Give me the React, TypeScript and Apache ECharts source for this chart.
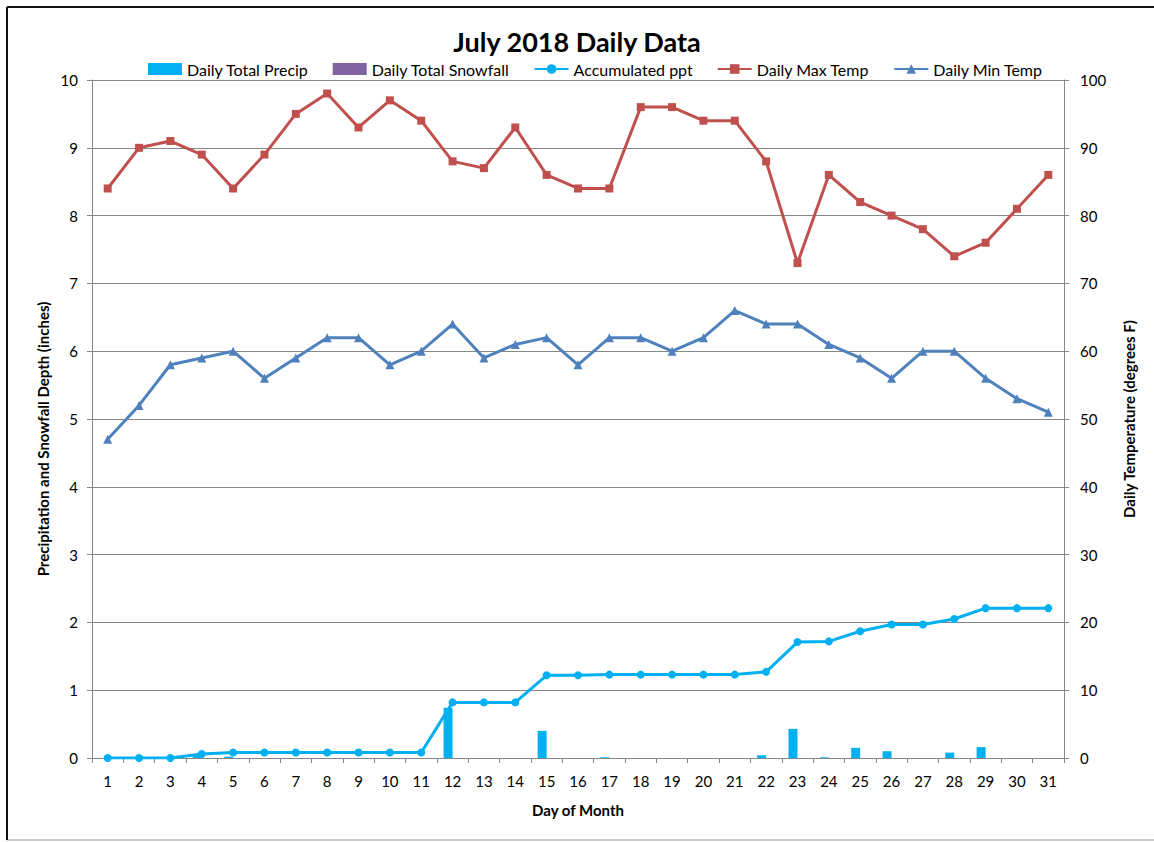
import React, { useEffect, useRef } from "react";
import * as echarts from "echarts";

const days = ["1","2","3","4","5","6","7","8","9","10","11","12","13","14","15","16","17","18","19","20","21","22","23","24","25","26","27","28","29","30","31"];
const dailyPrecip = [0,0,0,0.06,0.02,0,0,0,0,0,0,0.74,0,0,0.40,0,0.01,0,0,0,0,0.04,0.43,0.01,0.15,0.10,0,0.08,0.16,0,0];
const dailySnow = [0,0,0,0,0,0,0,0,0,0,0,0,0,0,0,0,0,0,0,0,0,0,0,0,0,0,0,0,0,0,0];
const accumPpt = [0,0,0,0.06,0.08,0.08,0.08,0.08,0.08,0.08,0.08,0.82,0.82,0.82,1.22,1.22,1.23,1.23,1.23,1.23,1.23,1.27,1.71,1.72,1.87,1.97,1.97,2.05,2.21,2.21,2.21];
const maxTemp = [84,90,91,89,84,89,95,98,93,97,94,88,87,93,86,84,84,96,96,94,94,88,73,86,82,80,78,74,76,81,86];
const minTemp = [47,52,58,59,60,56,59,62,62,58,60,64,59,61,62,58,62,62,60,62,66,64,64,61,59,56,60,60,56,53,51];

const FONT = "Lato";

export default function App() {
  const ref = useRef<HTMLDivElement>(null);
  useEffect(() => {
    document.body.style.margin = "0";
    const chart = echarts.init(ref.current!, null, { renderer: "svg" });
    chart.setOption({
      animation: false,
      backgroundColor: "#ffffff",
      textStyle: { fontFamily: FONT, color: "#000" },
      title: {
        text: "July 2018 Daily Data",
        left: "center",
        top: 23,
        textStyle: { fontFamily: FONT, fontWeight: "bold", fontSize: 27, color: "#000" },
      },
      legend: {
        top: 56,
        left: 143,
        itemGap: 24,
        itemWidth: 34,
        itemHeight: 12,
        textStyle: { fontFamily: FONT, fontSize: 16, color: "#000" },
        data: [
          { name: "Daily Total Precip", icon: "rect" },
          { name: "Daily Total Snowfall", icon: "rect" },
          { name: "Accumulated ppt" },
          { name: "Daily Max Temp" },
          { name: "Daily Min Temp" },
        ],
      },
      graphic: [
        { type: "rect", shape: { x: 7, y: 7, width: 1160, height: 833 }, style: { fill: "none", stroke: "#999", lineWidth: 1 } },
        { type: "line", shape: { x1: 7, y1: 7, x2: 1160, y2: 7 }, style: { stroke: "#111", lineWidth: 2 } },
        { type: "line", shape: { x1: 7, y1: 7, x2: 7, y2: 840 }, style: { stroke: "#111", lineWidth: 2 } },
        {
          type: "text",
          x: 43,
          y: 439,
          rotation: Math.PI / 2,
          style: {
            text: "Precipitation and Snowfall Depth (inches)",
            fontFamily: FONT,
            fontWeight: "bold",
            fontSize: 15,
            fill: "#000",
            align: "center",
            verticalAlign: "middle",
          },
        },
      ],
      grid: { left: 92, right: 90, top: 80, bottom: 84, containLabel: false },
      xAxis: {
        type: "category",
        data: days,
        boundaryGap: true,
        name: "Day of Month",
        nameLocation: "middle",
        nameGap: 44,
        nameTextStyle: { fontFamily: FONT, fontWeight: "bold", fontSize: 15, color: "#000" },
        axisLine: { lineStyle: { color: "#868686" } },
        axisTick: { show: true, length: 5, lineStyle: { color: "#868686" } },
        axisLabel: { fontFamily: FONT, fontSize: 15, color: "#000", margin: 15, interval: 0 },
      },
      yAxis: [
        {
          type: "value",
          min: 0,
          max: 10,
          interval: 1,
          axisLine: { show: true, lineStyle: { color: "#868686" } },
          axisTick: { show: true, length: 5, lineStyle: { color: "#868686" } },
          axisLabel: { fontFamily: FONT, fontSize: 15, color: "#000", margin: 14 },
          splitLine: { show: true, lineStyle: { color: "#868686" } },
        },
        {
          type: "value",
          min: 0,
          max: 100,
          interval: 10,
          name: "Daily Temperature (degrees F)",
          nameLocation: "middle",
          nameGap: 57,
          nameTextStyle: { fontFamily: FONT, fontWeight: "bold", fontSize: 15, color: "#000" },
          axisLine: { show: true, lineStyle: { color: "#868686" } },
          axisTick: { show: true, length: 5, lineStyle: { color: "#868686" } },
          axisLabel: { fontFamily: FONT, fontSize: 15, color: "#000", margin: 16 },
          splitLine: { show: false },
        },
      ],
      series: [
        {
          name: "Daily Total Precip",
          type: "bar",
          data: dailyPrecip,
          barWidth: 9,
          barGap: "0%",
          itemStyle: { color: "#00B0F0" },
        },
        {
          name: "Daily Total Snowfall",
          type: "bar",
          data: dailySnow,
          barWidth: 9,
          barGap: "0%",
          itemStyle: { color: "#8064A2" },
        },
        {
          name: "Accumulated ppt",
          type: "line",
          data: accumPpt,
          symbol: "circle",
          symbolSize: 8,
          lineStyle: { color: "#00B0F0", width: 3 },
          itemStyle: { color: "#00B0F0" },
        },
        {
          name: "Daily Max Temp",
          type: "line",
          yAxisIndex: 1,
          data: maxTemp,
          symbol: "rect",
          symbolSize: 8,
          lineStyle: { color: "#C0504D", width: 3 },
          itemStyle: { color: "#C0504D" },
        },
        {
          name: "Daily Min Temp",
          type: "line",
          yAxisIndex: 1,
          data: minTemp,
          symbol: "triangle",
          symbolSize: 9,
          lineStyle: { color: "#4F81BD", width: 3 },
          itemStyle: { color: "#4F81BD" },
        },
      ],
    });
    return () => chart.dispose();
  }, []);
  return <div ref={ref} style={{ position: "absolute", left: 0, top: 0, width: 1154, height: 842 }} />;
}
